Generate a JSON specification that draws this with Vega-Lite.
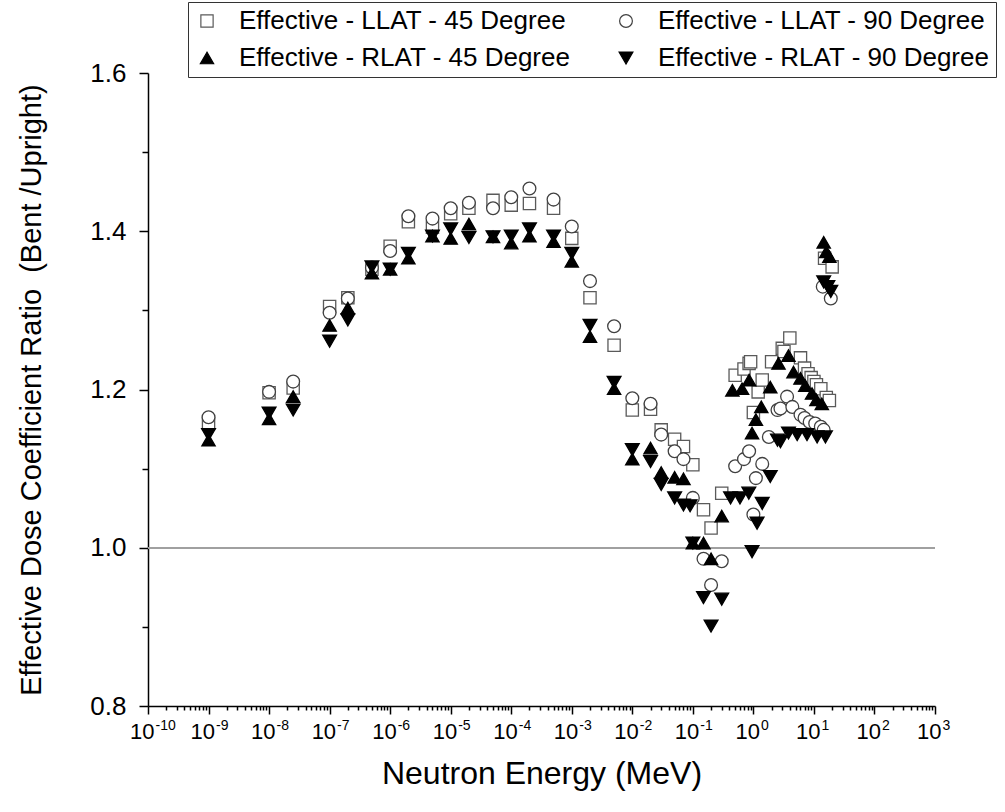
{
  "$schema": "https://vega.github.io/schema/vega-lite/v6.json",
  "width": 787,
  "height": 633,
  "autosize": "none",
  "padding": {"left": 148, "top": 73, "right": 70, "bottom": 106},
  "background": "white",
  "config": {
    "view": {"stroke": null},
    "font": "Liberation Sans",
    "axis": {"domainColor": "black", "domainWidth": 1.5, "tickColor": "black", "tickWidth": 1.5, "labelColor": "black", "titleColor": "black", "grid": false, "labelFont": "Liberation Sans", "titleFont": "Liberation Sans", "titleFontWeight": "normal"},
    "legend": {"labelFont": "Liberation Sans"}
  },
  "data": {"values": [
    {"series": "L45", "energy": 1e-9, "ratio": 1.157}, {"series": "L45", "energy": 1e-8, "ratio": 1.196}, {"series": "L45", "energy": 2.5e-8, "ratio": 1.202},
    {"series": "L45", "energy": 1e-7, "ratio": 1.305}, {"series": "L45", "energy": 2e-7, "ratio": 1.316}, {"series": "L45", "energy": 5e-7, "ratio": 1.352},
    {"series": "L45", "energy": 1e-6, "ratio": 1.381}, {"series": "L45", "energy": 2e-6, "ratio": 1.412}, {"series": "L45", "energy": 5e-6, "ratio": 1.405},
    {"series": "L45", "energy": 1e-5, "ratio": 1.422}, {"series": "L45", "energy": 2e-5, "ratio": 1.429}, {"series": "L45", "energy": 5e-5, "ratio": 1.439},
    {"series": "L45", "energy": 1e-4, "ratio": 1.433}, {"series": "L45", "energy": 2e-4, "ratio": 1.435}, {"series": "L45", "energy": 5e-4, "ratio": 1.429},
    {"series": "L45", "energy": 1e-3, "ratio": 1.391}, {"series": "L45", "energy": 2e-3, "ratio": 1.316}, {"series": "L45", "energy": 5e-3, "ratio": 1.256},
    {"series": "L45", "energy": 1e-2, "ratio": 1.174}, {"series": "L45", "energy": 2e-2, "ratio": 1.175}, {"series": "L45", "energy": 3e-2, "ratio": 1.149},
    {"series": "L45", "energy": 5e-2, "ratio": 1.137}, {"series": "L45", "energy": 7e-2, "ratio": 1.128}, {"series": "L45", "energy": 0.1, "ratio": 1.105},
    {"series": "L45", "energy": 0.15, "ratio": 1.048}, {"series": "L45", "energy": 0.2, "ratio": 1.025}, {"series": "L45", "energy": 0.3, "ratio": 1.069},
    {"series": "L45", "energy": 0.5, "ratio": 1.218}, {"series": "L45", "energy": 0.7, "ratio": 1.226}, {"series": "L45", "energy": 0.85, "ratio": 1.233},
    {"series": "L45", "energy": 0.9, "ratio": 1.235}, {"series": "L45", "energy": 1.0, "ratio": 1.171}, {"series": "L45", "energy": 1.2, "ratio": 1.197},
    {"series": "L45", "energy": 1.4, "ratio": 1.212}, {"series": "L45", "energy": 2, "ratio": 1.235}, {"series": "L45", "energy": 3, "ratio": 1.252},
    {"series": "L45", "energy": 3.2, "ratio": 1.248}, {"series": "L45", "energy": 4, "ratio": 1.265}, {"series": "L45", "energy": 6, "ratio": 1.240},
    {"series": "L45", "energy": 7, "ratio": 1.227}, {"series": "L45", "energy": 8, "ratio": 1.220}, {"series": "L45", "energy": 9, "ratio": 1.215},
    {"series": "L45", "energy": 10, "ratio": 1.210}, {"series": "L45", "energy": 11, "ratio": 1.206}, {"series": "L45", "energy": 13, "ratio": 1.201},
    {"series": "L45", "energy": 16, "ratio": 1.190}, {"series": "L45", "energy": 18, "ratio": 1.186}, {"series": "L45", "energy": 15, "ratio": 1.366},
    {"series": "L45", "energy": 20, "ratio": 1.355},

    {"series": "L90", "energy": 1e-9, "ratio": 1.165}, {"series": "L90", "energy": 1e-8, "ratio": 1.197}, {"series": "L90", "energy": 2.5e-8, "ratio": 1.210},
    {"series": "L90", "energy": 1e-7, "ratio": 1.297}, {"series": "L90", "energy": 2e-7, "ratio": 1.315}, {"series": "L90", "energy": 5e-7, "ratio": 1.354},
    {"series": "L90", "energy": 1e-6, "ratio": 1.375}, {"series": "L90", "energy": 2e-6, "ratio": 1.419}, {"series": "L90", "energy": 5e-6, "ratio": 1.416},
    {"series": "L90", "energy": 1e-5, "ratio": 1.429}, {"series": "L90", "energy": 2e-5, "ratio": 1.436}, {"series": "L90", "energy": 5e-5, "ratio": 1.429},
    {"series": "L90", "energy": 1e-4, "ratio": 1.443}, {"series": "L90", "energy": 2e-4, "ratio": 1.454}, {"series": "L90", "energy": 5e-4, "ratio": 1.440},
    {"series": "L90", "energy": 1e-3, "ratio": 1.406}, {"series": "L90", "energy": 2e-3, "ratio": 1.337}, {"series": "L90", "energy": 5e-3, "ratio": 1.280},
    {"series": "L90", "energy": 1e-2, "ratio": 1.189}, {"series": "L90", "energy": 2e-2, "ratio": 1.182}, {"series": "L90", "energy": 3e-2, "ratio": 1.143},
    {"series": "L90", "energy": 5e-2, "ratio": 1.122}, {"series": "L90", "energy": 7e-2, "ratio": 1.112}, {"series": "L90", "energy": 0.1, "ratio": 1.063},
    {"series": "L90", "energy": 0.15, "ratio": 0.986}, {"series": "L90", "energy": 0.2, "ratio": 0.953}, {"series": "L90", "energy": 0.3, "ratio": 0.983},
    {"series": "L90", "energy": 0.5, "ratio": 1.103}, {"series": "L90", "energy": 0.7, "ratio": 1.112}, {"series": "L90", "energy": 0.85, "ratio": 1.122},
    {"series": "L90", "energy": 1.0, "ratio": 1.042}, {"series": "L90", "energy": 1.1, "ratio": 1.088}, {"series": "L90", "energy": 1.4, "ratio": 1.106},
    {"series": "L90", "energy": 1.8, "ratio": 1.140}, {"series": "L90", "energy": 2.5, "ratio": 1.174}, {"series": "L90", "energy": 2.8, "ratio": 1.176},
    {"series": "L90", "energy": 3.6, "ratio": 1.191}, {"series": "L90", "energy": 4.4, "ratio": 1.178}, {"series": "L90", "energy": 6, "ratio": 1.168},
    {"series": "L90", "energy": 7, "ratio": 1.164}, {"series": "L90", "energy": 8.5, "ratio": 1.159}, {"series": "L90", "energy": 10.5, "ratio": 1.157},
    {"series": "L90", "energy": 13, "ratio": 1.153}, {"series": "L90", "energy": 14.5, "ratio": 1.149}, {"series": "L90", "energy": 14, "ratio": 1.330},
    {"series": "L90", "energy": 19, "ratio": 1.315},

    {"series": "R45", "energy": 1e-9, "ratio": 1.136}, {"series": "R45", "energy": 1e-8, "ratio": 1.163}, {"series": "R45", "energy": 2.5e-8, "ratio": 1.191},
    {"series": "R45", "energy": 1e-7, "ratio": 1.281}, {"series": "R45", "energy": 2e-7, "ratio": 1.303}, {"series": "R45", "energy": 5e-7, "ratio": 1.347},
    {"series": "R45", "energy": 1e-6, "ratio": 1.352}, {"series": "R45", "energy": 2e-6, "ratio": 1.366}, {"series": "R45", "energy": 5e-6, "ratio": 1.394},
    {"series": "R45", "energy": 1e-5, "ratio": 1.391}, {"series": "R45", "energy": 2e-5, "ratio": 1.409}, {"series": "R45", "energy": 5e-5, "ratio": 1.393},
    {"series": "R45", "energy": 1e-4, "ratio": 1.385}, {"series": "R45", "energy": 2e-4, "ratio": 1.394}, {"series": "R45", "energy": 5e-4, "ratio": 1.387},
    {"series": "R45", "energy": 1e-3, "ratio": 1.362}, {"series": "R45", "energy": 2e-3, "ratio": 1.267}, {"series": "R45", "energy": 5e-3, "ratio": 1.201},
    {"series": "R45", "energy": 1e-2, "ratio": 1.112}, {"series": "R45", "energy": 2e-2, "ratio": 1.126}, {"series": "R45", "energy": 3e-2, "ratio": 1.095},
    {"series": "R45", "energy": 5e-2, "ratio": 1.089}, {"series": "R45", "energy": 7e-2, "ratio": 1.087}, {"series": "R45", "energy": 0.1, "ratio": 1.006},
    {"series": "R45", "energy": 0.15, "ratio": 1.006}, {"series": "R45", "energy": 0.2, "ratio": 0.986}, {"series": "R45", "energy": 0.3, "ratio": 1.040},
    {"series": "R45", "energy": 0.45, "ratio": 1.199}, {"series": "R45", "energy": 0.65, "ratio": 1.201}, {"series": "R45", "energy": 0.85, "ratio": 1.212},
    {"series": "R45", "energy": 0.95, "ratio": 1.145}, {"series": "R45", "energy": 1.1, "ratio": 1.162}, {"series": "R45", "energy": 1.35, "ratio": 1.178},
    {"series": "R45", "energy": 1.9, "ratio": 1.203}, {"series": "R45", "energy": 2.6, "ratio": 1.233}, {"series": "R45", "energy": 3.8, "ratio": 1.243},
    {"series": "R45", "energy": 4.6, "ratio": 1.222}, {"series": "R45", "energy": 6, "ratio": 1.214}, {"series": "R45", "energy": 7.2, "ratio": 1.205},
    {"series": "R45", "energy": 9.3, "ratio": 1.195}, {"series": "R45", "energy": 11, "ratio": 1.187}, {"series": "R45", "energy": 13.5, "ratio": 1.182},
    {"series": "R45", "energy": 14.5, "ratio": 1.386}, {"series": "R45", "energy": 16, "ratio": 1.374}, {"series": "R45", "energy": 18, "ratio": 1.368},

    {"series": "R90", "energy": 1e-9, "ratio": 1.143}, {"series": "R90", "energy": 1e-8, "ratio": 1.170}, {"series": "R90", "energy": 2.5e-8, "ratio": 1.174},
    {"series": "R90", "energy": 1e-7, "ratio": 1.261}, {"series": "R90", "energy": 2e-7, "ratio": 1.288}, {"series": "R90", "energy": 5e-7, "ratio": 1.355},
    {"series": "R90", "energy": 1e-6, "ratio": 1.352}, {"series": "R90", "energy": 2e-6, "ratio": 1.372}, {"series": "R90", "energy": 5e-6, "ratio": 1.394},
    {"series": "R90", "energy": 1e-5, "ratio": 1.403}, {"series": "R90", "energy": 2e-5, "ratio": 1.392}, {"series": "R90", "energy": 5e-5, "ratio": 1.393},
    {"series": "R90", "energy": 1e-4, "ratio": 1.394}, {"series": "R90", "energy": 2e-4, "ratio": 1.403}, {"series": "R90", "energy": 5e-4, "ratio": 1.394},
    {"series": "R90", "energy": 1e-3, "ratio": 1.372}, {"series": "R90", "energy": 2e-3, "ratio": 1.281}, {"series": "R90", "energy": 5e-3, "ratio": 1.209},
    {"series": "R90", "energy": 1e-2, "ratio": 1.124}, {"series": "R90", "energy": 2e-2, "ratio": 1.109}, {"series": "R90", "energy": 3e-2, "ratio": 1.080},
    {"series": "R90", "energy": 5e-2, "ratio": 1.063}, {"series": "R90", "energy": 7e-2, "ratio": 1.054}, {"series": "R90", "energy": 0.09, "ratio": 1.053},
    {"series": "R90", "energy": 0.1, "ratio": 1.006}, {"series": "R90", "energy": 0.15, "ratio": 0.937}, {"series": "R90", "energy": 0.2, "ratio": 0.901},
    {"series": "R90", "energy": 0.3, "ratio": 0.935}, {"series": "R90", "energy": 0.42, "ratio": 1.063}, {"series": "R90", "energy": 0.6, "ratio": 1.063},
    {"series": "R90", "energy": 0.84, "ratio": 1.069}, {"series": "R90", "energy": 0.95, "ratio": 0.995}, {"series": "R90", "energy": 1.15, "ratio": 1.031},
    {"series": "R90", "energy": 1.4, "ratio": 1.056}, {"series": "R90", "energy": 1.9, "ratio": 1.090}, {"series": "R90", "energy": 2.5, "ratio": 1.136},
    {"series": "R90", "energy": 2.8, "ratio": 1.134}, {"series": "R90", "energy": 3.8, "ratio": 1.145}, {"series": "R90", "energy": 5.3, "ratio": 1.143},
    {"series": "R90", "energy": 7.7, "ratio": 1.143}, {"series": "R90", "energy": 11.3, "ratio": 1.140}, {"series": "R90", "energy": 15.5, "ratio": 1.140},
    {"series": "R90", "energy": 14.5, "ratio": 1.336}, {"series": "R90", "energy": 17, "ratio": 1.330}, {"series": "R90", "energy": 19, "ratio": 1.324}
  ]},
  "resolve": {"axis": {"x": "independent"}},
  "layer": [
    {
      "mark": {"type": "rule", "color": "#a0a0a0", "strokeWidth": 1},
      "encoding": {
        "x": {
          "datum": 1e-10, "type": "quantitative",
          "scale": {"type": "log", "domain": [1e-10, 1000], "nice": false},
          "axis": {
            "orient": "bottom",
            "title": null,
            "domain": false,
            "ticks": false,
            "tickSize": 0,
            "labelFontSize": 14,
            "labelPadding": 12,
            "labelAlign": "left",
            "labelOffset": 7,
            "labelOverlap": false,
            "labelFlush": false,
            "values": [1e-10, 1e-9, 1e-8, 1e-7, 1e-6, 1e-5, 1e-4, 1e-3, 1e-2, 0.1, 1, 10, 100, 1000],
            "labelExpr": "toString(round(log(datum.value)/LN10))"
          }
        },
        "x2": {"datum": 1000},
        "y": {"datum": 1.0, "type": "quantitative"}
      }
    },
    {
      "mark": {"type": "point", "strokeWidth": 1.3, "opacity": 1},
      "encoding": {
        "x": {
          "field": "energy", "type": "quantitative",
          "scale": {"type": "log", "domain": [1e-10, 1000], "nice": false},
          "axis": {
            "orient": "bottom",
            "title": "Neutron Energy (MeV)",
            "titleFontSize": 32,
            "titlePadding": 16,
            "labelFontSize": 22,
            "labelPadding": 7,
            "labelAlign": "right",
            "labelOffset": 6,
            "labelOverlap": false,
            "labelFlush": false,
            "values": [1e-10,2e-10,3e-10,4e-10,5e-10,6e-10,7e-10,8e-10,9e-10,
                       1e-9,2e-9,3e-9,4e-9,5e-9,6e-9,7e-9,8e-9,9e-9,
                       1e-8,2e-8,3e-8,4e-8,5e-8,6e-8,7e-8,8e-8,9e-8,
                       1e-7,2e-7,3e-7,4e-7,5e-7,6e-7,7e-7,8e-7,9e-7,
                       1e-6,2e-6,3e-6,4e-6,5e-6,6e-6,7e-6,8e-6,9e-6,
                       1e-5,2e-5,3e-5,4e-5,5e-5,6e-5,7e-5,8e-5,9e-5,
                       1e-4,2e-4,3e-4,4e-4,5e-4,6e-4,7e-4,8e-4,9e-4,
                       1e-3,2e-3,3e-3,4e-3,5e-3,6e-3,7e-3,8e-3,9e-3,
                       1e-2,2e-2,3e-2,4e-2,5e-2,6e-2,7e-2,8e-2,9e-2,
                       0.1,0.2,0.3,0.4,0.5,0.6,0.7,0.8,0.9,
                       1,2,3,4,5,6,7,8,9,
                       10,20,30,40,50,60,70,80,90,
                       100,200,300,400,500,600,700,800,900,1000],
            "labelExpr": "abs(log(datum.value)/LN10 - round(log(datum.value)/LN10)) < 0.001 ? '10' : ''",
            "tickSize": {"condition": {"test": "abs(log(datum.value)/LN10 - round(log(datum.value)/LN10)) < 0.001", "value": 8}, "value": 4}
          }
        },
        "y": {
          "field": "ratio", "type": "quantitative",
          "scale": {"domain": [0.8, 1.6], "nice": false, "zero": false},
          "axis": {
            "title": "Effective Dose Coefficient Ratio\u00a0 (Bent /Upright)",
            "titleFontSize": 29,
            "titlePadding": 43,
            "labelFontSize": 26,
            "labelPadding": 13,
            "labelOverlap": false,
            "labelFlush": false,
            "values": [0.8, 0.9, 1.0, 1.1, 1.2, 1.3, 1.4, 1.5, 1.6],
            "labelExpr": "round(datum.value*10) % 2 == 0 ? format(datum.value, '.1f') : ''",
            "tickSize": {"condition": {"test": "round(datum.value*10) % 2 == 0", "value": 9}, "value": 6}
          }
        },
        "shape": {
          "field": "series", "type": "nominal",
          "scale": {"domain": ["L45", "L90", "R45", "R90"], "range": ["square", "circle", "triangle-up", "triangle-down"]},
          "legend": {
            "title": null,
            "orient": "none",
            "direction": "horizontal",
            "legendX": 40,
            "legendY": -71,
            "columns": 2,
            "columnPadding": 42,
            "rowPadding": 11,
            "padding": 6,
            "strokeColor": "#333333",
            "fillColor": "white",
            "labelFontSize": 26,
            "labelLimit": 600,
            "labelOffset": 19,
            "symbolStrokeWidth": 1.2,
            "labelExpr": "datum.label == 'L45' ? 'Effective - LLAT - 45 Degree' : datum.label == 'L90' ? 'Effective - LLAT - 90 Degree' : datum.label == 'R45' ? 'Effective - RLAT - 45 Degree' : 'Effective - RLAT - 90 Degree'"
          }
        },
        "fill": {
          "field": "series", "type": "nominal",
          "scale": {"domain": ["L45", "L90", "R45", "R90"], "range": ["white", "white", "black", "black"]}
        },
        "stroke": {
          "field": "series", "type": "nominal",
          "scale": {"domain": ["L45", "L90", "R45", "R90"], "range": ["#5a5a5a", "#404040", "black", "black"]}
        },
        "size": {
          "field": "series", "type": "nominal",
          "scale": {"domain": ["L45", "L90", "R45", "R90"], "range": [150, 190, 230, 230]}
        }
      }
    }
  ]
}
